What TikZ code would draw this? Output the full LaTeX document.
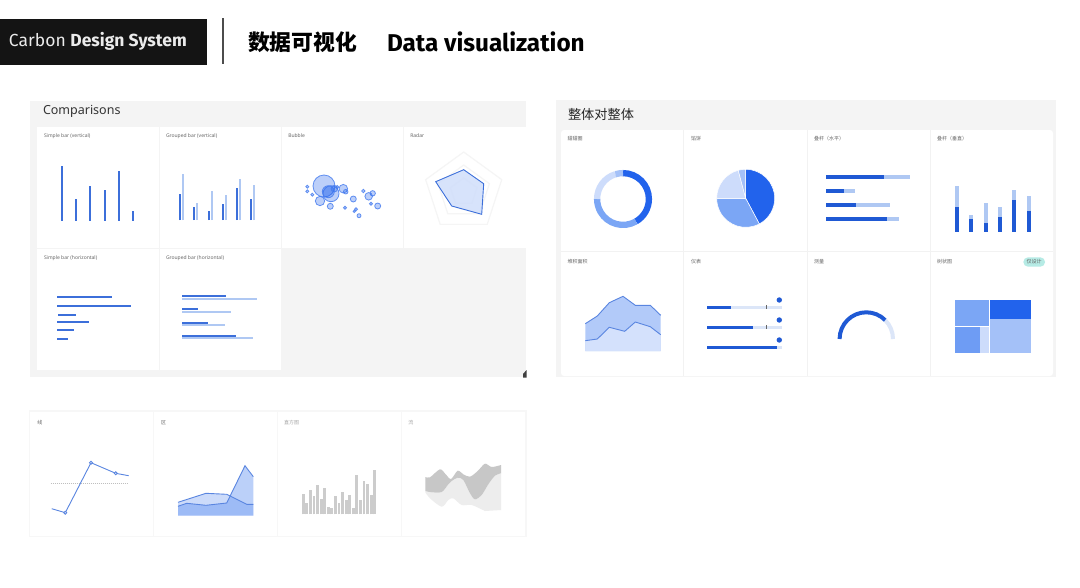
\documentclass[tikz,border=0pt]{standalone}
\usepackage{fontspec}
\usepackage{xcolor}
\setmainfont{Noto Sans}
\newfontfamily\headfont{Fira Sans}
\newfontfamily\cjk{Noto Sans CJK SC}
\usetikzlibrary{calc}
\usetikzlibrary{positioning}
\definecolor{panelgrey}{HTML}{F4F4F4}
\definecolor{barblue}{HTML}{3C6FDA}
\definecolor{barpale}{HTML}{AFC8F3}
\definecolor{deepblue}{HTML}{2263EC}
\definecolor{midblue}{HTML}{7BA6F5}
\definecolor{softblue}{HTML}{A4C1F8}
\definecolor{paleblue}{HTML}{CDDCFB}
\definecolor{trackblue}{HTML}{DCE6F8}
\definecolor{capgrey}{HTML}{666666}
\definecolor{badgeteal}{HTML}{B6EBE5}
\tikzset{>=stealth}

\begin{document}
\begin{tikzpicture}[
        x=1pt,y=1pt,yscale=-1,
        every node/.style={anchor=west,inner sep=0pt,outer sep=0pt},
        caplatin/.style={font=\fontsize{5}{6}\selectfont,text=capgrey},
        capcjk/.style={font=\cjk\fontsize{5}{6}\selectfont,text=capgrey},
        capfaint/.style={font=\cjk\fontsize{5}{6}\selectfont,text=gray!70},
        cell/.style={fill=white},
        vbar/.style={barblue,line width=2.3pt},
        vpale/.style={barpale,line width=2.3pt},
        hbar/.style={barblue,line width=2.3pt},
        hpale/.style={barpale,line width=2pt},
        stackdark/.style={deepblue!90!black,line width=4pt},
        stackpale/.style={barpale,line width=4pt},
        bubble/.style={draw=deepblue!85,fill=deepblue,fill opacity=.3,line width=.8pt},
        ringline/.style={draw=black!4,line width=1.2pt},
        trendline/.style={draw=barblue!85,line width=.9pt},
        histbar/.style={black!20,line width=2.8pt}
    ]
    \useasboundingbox (0,0) rectangle (1080,587);
    \fill[white] (0,0) rectangle (1080,587);

    % header
    \fill[black!92] (0,18.5) rectangle (207,64.5);
    \draw[black!70,line width=1.6pt] (223,18) -- (223,64);
    \node[text=white!92!black,font=\headfont\fontsize{17.5}{20}\selectfont] (carbon) at (9,41.5) {Carbon \textbf{Design System}};
    \node[font=\cjk\bfseries\fontsize{21.8}{24}\selectfont] (titlecn) at (248,42) {数据可视化};
    \node[font=\headfont\bfseries\fontsize{24.3}{27}\selectfont] (titleen) at (387,42) {Data visualization};

    % comparisons
    \fill[panelgrey] (30,101) rectangle (526,377);
    \node[font=\fontsize{12.5}{14}\selectfont,text=black!80] (cmp) at (43,111.5) {Comparisons};
    \foreach \xa/\xb/\ya/\yb in {37/158.5/127/247.5,160/281/127/247.5,282/403/127/247.5,404/526/127/247.5,37/158.5/249/369.5,160/281/249/369.5}
        \fill[cell] (\xa,\ya) rectangle (\xb,\yb);
    \fill[black!75] (526.5,370) -- (526.5,377.5) -- (523,377.5) -- (523,374) -- cycle;
    \node[caplatin] (sbv) at (44,136) {Simple bar (vertical)};
    \node[caplatin] (gbv) at (166,136) {Grouped bar (vertical)};
    \node[caplatin] (bub) at (288.3,136) {Bubble};
    \node[caplatin] (rad) at (410.3,136) {Radar};
    \node[caplatin] (sbh) at (44,258) {Simple bar (horizontal)};
    \node[caplatin] (gbh) at (166,258) {Grouped bar (horizontal)};

    \foreach \xp/\yp in {62/165.7,76/199,90.3/186,104.7/190.3,119/171,133.3/211}
        \draw[vbar] (\xp,220.7) -- (\xp,\yp);

    \foreach \xp/\yd/\yl in {180/194.3/174,194.3/207/203.3,209/210.7/191.3,223/204.3/195,237/188.3/178.7,251/199/185.3} {
        \draw[vpale] (\xp+2.9,220) -- (\xp+2.9,\yl);
        \draw[vbar] (\xp,220) -- (\xp,\yd);
    }

    \foreach \xp/\yp/\rr in {324/186/11,331/193.7/8,328.3/191.7/6,334.3/188.7/3.3,343.3/188.7/4.3,345.7/191.7/2.3,320/201/4.7,330.3/206.3/3,307.3/186.7/1.5,307.3/191.3/1.5,312.3/194.7/1.5,353.3/199/3,363.3/191/1.7,372.7/193.3/2.7,368.7/196.3/3.8,371/203.7/1.5,377.7/206/3,345/207.7/1.5,356/209.3/1.5,354.3/211.3/1.2,359/215.7/2,337.3/187/1.5}
        \draw[bubble,draw opacity=.8] (\xp,\yp) circle[radius=\rr pt];

    \coordinate (radarc) at (463.7,192);
    \foreach \rr in {40,27,14}
        \draw[ringline] ($(radarc)+(-90:\rr)$) -- ($(radarc)+(-18:\rr)$) -- ($(radarc)+(54:\rr)$) -- ($(radarc)+(126:\rr)$) -- ($(radarc)+(198:\rr)$) -- cycle;
    \draw[barblue,fill=paleblue,fill opacity=.8,line width=.9pt] (463.7,169.7) -- (483.7,183.7) -- (481.7,214.3) -- (451.7,206) -- (435.7,181.7) -- cycle;

    \foreach \yp/\xa/\xb in {297.3/57.3/111.7,306.3/57.3/130.7,315/58/76.3,322.3/57.3/89,330/57.3/73.7,338.7/57.3/68}
        \draw[hbar] (\xa,\yp) -- (\xb,\yp);

    \foreach \yd/\xd/\yl/\xl in {296/226/298.7/257.3,309.3/198/311.7/231,322.7/208.3/325/225,335.7/236/338.3/252.7} {
        \draw[hpale] (182.3,\yl) -- (\xl,\yl);
        \draw[hbar] (182.3,\yd) -- (\xd,\yd);
    }

    % whole to whole
    \fill[panelgrey] (556,100) rectangle (1056,377);
    \fill[cell,rounded corners=3pt] (561,130) rectangle (1053,376);
    \draw[black!5,line width=.6pt] (683.5,130) -- (683.5,376) (807,130) -- (807,376) (930.5,130) -- (930.5,376) (561,251.5) -- (1053,251.5);
    \node[font=\cjk\fontsize{13.2}{15}\selectfont,text=black!85] (whole) at (568,114.5) {整体对整体};
    \node[capcjk] (donutlb) at (567.7,138.7) {甜甜圈};
    \node[capcjk] (pielb) at (691,138.7) {馅饼};
    \node[capcjk] (shlb) at (814,138.7) {叠杆（水平）};
    \node[capcjk] (svlb) at (937,138.7) {叠杆（垂直）};
    \node[capcjk] (arealb) at (567.7,261.7) {堆积面积};
    \node[capcjk] (bulletlb) at (691,261.7) {仪表};
    \node[capcjk] (gaugelb) at (814,261.7) {测量};
    \node[capcjk] (treelb) at (937,261.7) {树状图};
    \node[fill=badgeteal,text=capgrey,rounded corners=4.7pt,minimum width=21.7pt,minimum height=9.4pt,anchor=center,align=center,font=\cjk\fontsize{5}{6}\selectfont] (badge) at (1034.2,262) {仅设计};

    \coordinate (donutc) at (623,199);
    \foreach \from/\to/\col in {-90/60/deepblue,60/180/midblue,180/253/paleblue,253/270/softblue}
        \draw[\col,line width=6.3pt] ([shift=(\from:25.9pt)]donutc) arc[start angle=\from,end angle=\to,radius=25.9pt];

    \coordinate (piec) at (745.7,198.3);
    \foreach \from/\to/\col in {-90/62/deepblue,62/180/midblue,180/255/paleblue,255/270/softblue}
        \draw[white,fill=\col,line width=.5pt] (piec) -- ([shift=(\from:29pt)]piec) arc[start angle=\from,end angle=\to,radius=29pt] -- cycle;

    \foreach \yp/\xd/\xl in {177/883.7/910,191/844.3/854.7,204.7/855.7/890,218.7/886.7/899.3} {
        \draw[stackpale] (826.3,\yp) -- (\xl,\yp);
        \draw[stackdark] (826.3,\yp) -- (\xd,\yp);
    }

    \foreach \xp/\yd/\yl in {956.7/206.7/185.7,971.3/219.3/214.7,985.7/223/203.3,999.7/217/206.7,1014/200.3/190,1028.7/210.7/196.3} {
        \draw[stackpale] (\xp,231.7) -- (\xp,\yl);
        \draw[stackdark] (\xp,231.7) -- (\xp,\yd);
    }

    \fill[softblue!85] (585.3,323.7) -- (597.3,316) -- (609.3,302.7) -- (623,296.3) -- (635.3,305.3) -- (650.3,305.3) -- (660.7,315.3) -- (660.7,351) -- (585.3,351) -- cycle;
    \fill[paleblue!85] (585.3,340.7) -- (597.3,339) -- (609.3,327.3) -- (624.7,331.3) -- (635.3,322) -- (650.3,326.7) -- (660.7,334.7) -- (660.7,351) -- (585.3,351) -- cycle;
    \draw[trendline] (585.3,323.7) -- (597.3,316) -- (609.3,302.7) -- (623,296.3) -- (635.3,305.3) -- (650.3,305.3) -- (660.7,315.3);
    \draw[trendline] (585.3,340.7) -- (597.3,339) -- (609.3,327.3) -- (624.7,331.3) -- (635.3,322) -- (650.3,326.7) -- (660.7,334.7);

    \foreach \yp/\xd in {307/731,327/752.7,347/776.7} {
        \draw[trackblue,line width=3pt] (707,\yp) -- (782.3,\yp);
        \draw[deepblue!90!black,line width=3pt] (707,\yp) -- (\xd,\yp);
        \fill[deepblue!90!black] (779.3,\yp-7) circle[radius=2.7pt];
    }
    \draw[black!60,line width=.7pt] (766.3,305) -- (766.3,309) (766.3,325) -- (766.3,329);

    \coordinate (gaugec) at (866.3,339);
    \draw[trackblue,line width=4pt] ([shift=(315:26.7pt)]gaugec) arc[start angle=315,end angle=360,radius=26.7pt];
    \draw[deepblue!90!black,line width=4pt] ([shift=(180:26.7pt)]gaugec) arc[start angle=180,end angle=315,radius=26.7pt];

    \fill[midblue] (954.7,300.3) rectangle (989.3,326);
    \fill[deepblue] (990,300.3) rectangle (1030.7,319);
    \fill[midblue!85!deepblue] (954.7,326.7) rectangle (980,352.7);
    \fill[paleblue] (980.3,326.7) rectangle (989.3,352.7);
    \fill[softblue] (990,319.3) rectangle (1030.7,352.7);

    % line, area, histogram, stream
    \fill[black!3] (29,410) rectangle (527,537);
    \foreach \xa/\xb in {30/153,154/277,278/400.5,401.5/524.5}
        \fill[cell] (\xa,411.7) rectangle (\xb,536);
    \node[capcjk] (linelb) at (37.3,422.3) {线};
    \node[capcjk] (arealb2) at (161,422.3) {区};
    \node[capfaint] (histlb) at (284,422.3) {直方图};
    \node[capfaint] (streamlb) at (408.3,422.3) {流};

    \draw[black!25,line width=.4pt,dash pattern=on 1pt off 1pt] (50.7,483.3) -- (128.3,483.3);
    \draw[trendline] (51.7,508.7) -- (65.3,512.7) -- (91,462.7) -- (115.7,473.3) -- (128.7,475.7);
    \foreach \xp/\yp in {65.3/512.7,91/462.7,115.7/473.3}
        \draw[trendline,fill=white] (\xp,\yp) circle[radius=1.5pt];

    \fill[midblue!60!deepblue,fill opacity=.3] (178,502.3) -- (206,493.3) -- (226.7,494.3) -- (246.7,504.3) -- (253.3,504.3) -- (253.3,515.7) -- (178,515.7) -- cycle;
    \fill[midblue!60!deepblue,fill opacity=.4] (178,506.3) -- (186.7,503.3) -- (206,505.3) -- (226.7,503) -- (245,465.7) -- (253.3,476.7) -- (253.3,515.7) -- (178,515.7) -- cycle;
    \draw[trendline] (178,502.3) -- (206,493.3) -- (226.7,494.3) -- (246.7,504.3) -- (253.3,504.3);
    \draw[trendline] (178,506.3) -- (186.7,503.3) -- (206,505.3) -- (226.7,503) -- (245,465.7) -- (253.3,476.7);

    \foreach \tp [count=\i] in {494.3,503.3,489.7,496,485.3,499.3,487.7,506.7,508,496,503.3,492,499.7,494.7,508,474.7,499.7,481.3,484.3,495,469.7}
        \draw[histbar] ({303.3+3.57*(\i-1)},514.3) -- ({303.3+3.57*(\i-1)},\tp);

    \fill[black!7] plot[smooth] coordinates {(425.3,491) (431.7,492.3) (441.7,492) (448.3,484.3) (451.7,481) (457.7,477.7) (463.3,480) (470,493.3) (475,499.3) (481.7,495) (488.3,484.3) (495,475.7) (501,473.3)} -- (501,510) -- plot[smooth] coordinates {(485,511) (471.7,505) (461.7,505) (453.3,498.3) (448.3,500) (441.7,506.7) (430,498.3) (425.3,492.3)} -- cycle;
    \fill[black!22] plot[smooth] coordinates {(425.3,477) (430,477.3) (440,469.3) (445.7,474.3) (451,479) (457.7,470.7) (463.3,474.3) (470,476.7) (477.7,471) (485,463.7) (491.7,467) (501,465)} -- plot[smooth] coordinates {(501,473.3) (495,475.7) (488.3,484.3) (481.7,495) (475,499.3) (470,493.3) (463.3,480) (457.7,477.7) (451.7,481) (448.3,484.3) (441.7,492) (431.7,492.3) (425.3,491)} -- cycle;
\end{tikzpicture}
\end{document}
